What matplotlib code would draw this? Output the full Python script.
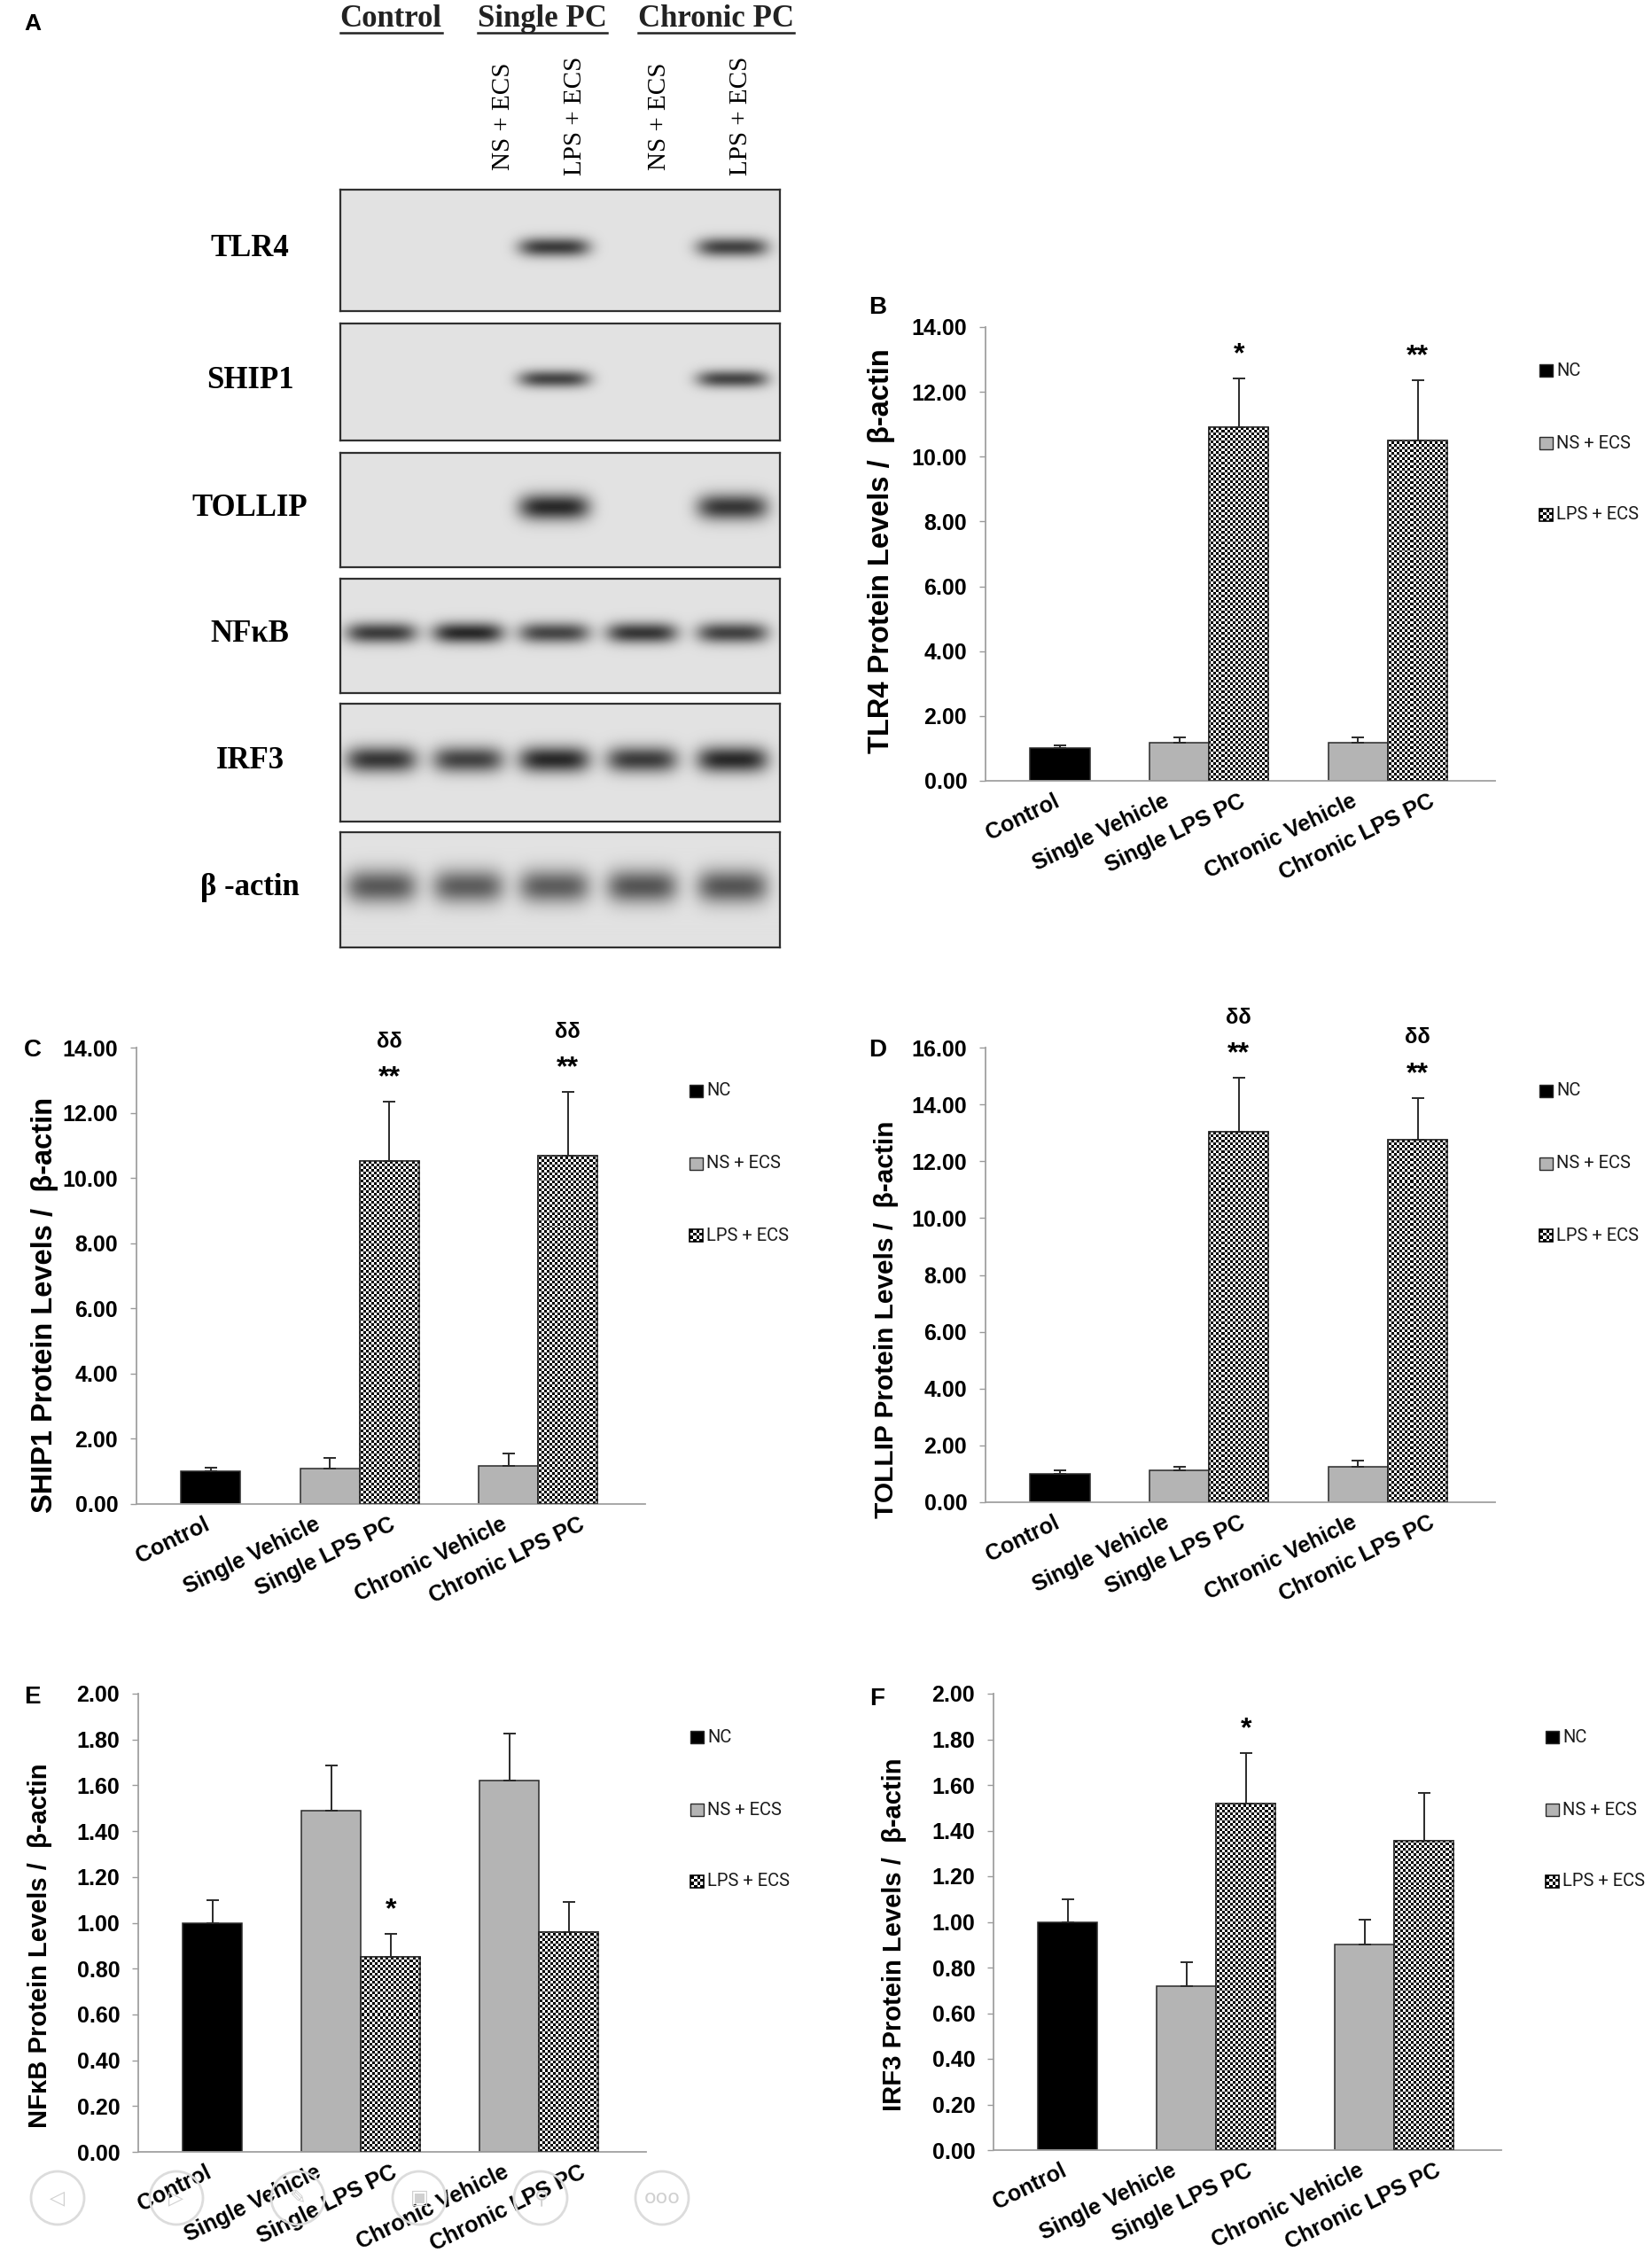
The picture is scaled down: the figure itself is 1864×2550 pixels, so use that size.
import numpy as np
import matplotlib
matplotlib.use("Agg")
import matplotlib.pyplot as plt
from matplotlib.patches import Rectangle, Circle

plt.rcParams['font.family'] = ['Liberation Sans', 'DejaVu Sans']

W, H = 1865, 2550

# ---------------- data ----------------
groups = ["Control", "Single Vehicle", "Single LPS PC", "Chronic Vehicle", "Chronic LPS PC"]
legend_names = ["NC", "NS + ECS", "LPS + ECS"]
group_series = [0, 1, 2, 1, 2]

tlr4_mean = [1.00, 1.18, 10.92, 1.18, 10.50]
tlr4_err = [0.10, 0.15, 1.50, 0.15, 1.85]
tlr4_stars = ["", "", "*", "", "**"]
tlr4_delta = ["", "", "", "", ""]

ship1_mean = [1.00, 1.08, 10.53, 1.18, 10.68]
ship1_err = [0.12, 0.33, 1.80, 0.38, 1.95]
ship1_stars = ["", "", "**", "", "**"]
ship1_delta = ["", "", "δδ", "", "δδ"]

tollip_mean = [1.00, 1.12, 13.05, 1.25, 12.77]
tollip_err = [0.12, 0.12, 1.88, 0.22, 1.46]
tollip_stars = ["", "", "**", "", "**"]
tollip_delta = ["", "", "δδ", "", "δδ"]

nfkb_mean = [1.00, 1.49, 0.85, 1.62, 0.96]
nfkb_err = [0.10, 0.195, 0.10, 0.205, 0.13]
nfkb_stars = ["", "", "*", "", ""]
nfkb_delta = ["", "", "", "", ""]

irf3_mean = [1.00, 0.72, 1.52, 0.90, 1.355]
irf3_err = [0.10, 0.105, 0.22, 0.11, 0.21]
irf3_stars = ["", "", "*", "", ""]
irf3_delta = ["", "", "", "", ""]

# western blot: band strength per lane (0 = no band)
blot_rows = ["TLR4", "SHIP1", "TOLLIP", "NFκB", "IRF3", "β -actin"]
band_tlr4 = [0.0, 0.0, 0.85, 0.0, 0.82]
band_ship1 = [0.0, 0.0, 0.80, 0.0, 0.80]
band_tollip = [0.0, 0.0, 0.95, 0.0, 0.88]
band_nfkb = [0.85, 0.95, 0.80, 0.88, 0.82]
band_irf3 = [0.88, 0.82, 0.95, 0.85, 0.95]
band_actin = [0.70, 0.68, 0.68, 0.72, 0.72]
header_groups = ["Control", "Single PC", "Chronic PC"]
lane_labels = ["NS + ECS", "LPS + ECS", "NS + ECS", "LPS + ECS"]

# ---------------- figure ----------------
fig = plt.figure(figsize=(W / 100, H / 100), dpi=100)
ov = fig.add_axes([0, 0, 1, 1], zorder=10)
ov.set_xlim(0, W)
ov.set_ylim(H, 0)
ov.axis('off')


def rect_px(x0, y0, x1, y1):
    return [x0 / W, 1 - y1 / H, (x1 - x0) / W, (y1 - y0) / H]


# ---------------- panel A : blots ----------------
serif = ['Liberation Serif', 'DejaVu Serif']
lane_x = [430, 528, 625, 724, 826]
blot_x0, blot_x1 = 384, 880
blot_y = [(214, 351), (365, 497), (511, 640), (653, 782), (794, 927), (939, 1069)]
band_sets = [band_tlr4, band_ship1, band_tollip, band_nfkb, band_irf3, band_actin]
band_thick = [11, 10, 15, 12, 15, 19]

for name, (y0, y1), levels, th in zip(blot_rows, blot_y, band_sets, band_thick):
    ax = fig.add_axes(rect_px(blot_x0, y0, blot_x1, y1))
    w, h = blot_x1 - blot_x0, y1 - y0
    xx = np.arange(w)[None, :]
    yy = np.arange(h)[:, None]
    dark = np.zeros((h, w))
    for lane, lvl in enumerate(levels):
        cx = lane_x[lane] - blot_x0
        dark += lvl * np.exp(-np.abs((xx - cx) / 40.0) ** 4) * np.exp(-((yy - 0.47 * h) / th) ** 2)
    img = 0.885 - 0.76 * np.clip(dark, 0, 1)
    ax.imshow(img, cmap='gray', vmin=0, vmax=1, aspect='auto', interpolation='bilinear')
    ax.set_xticks([])
    ax.set_yticks([])
    for s in ax.spines.values():
        s.set_color('#303030')
        s.set_linewidth(1.6)
    ov.text(282, (y0 + y1) / 2 - 2, name, family=serif, fontweight='bold', fontsize=25,
            ha='center', va='center')

header_x = [441, 612, 808]
header_txt = []
for hx, g in zip(header_x, header_groups):
    header_txt.append(ov.text(hx, 22, g, family=serif, fontweight='bold', fontsize=25,
                              ha='center', va='center', color='#222222'))
for lx, lab in zip([568, 649, 744, 836], lane_labels):
    ov.text(lx, 131, lab, family=serif, fontsize=21, rotation=90, ha='center', va='center')

ov.text(37, 27, "A", fontweight='bold', fontsize=19, ha='center', va='center')


# ---------------- bar panels ----------------
colors = ['#000000', '#b4b4b4', 'white']
edge = '#2a2a2a'
xpos = np.array([0, 2, 3, 5, 6])
label_shift = [-8, -18, 0, -8, 12]   # pixel nudges of the slanted category labels


def bar_panel(rect, ymax, ystep, means, errs, stars, deltas, ylabel, ysize, label_c, letter, letter_xy):
    x0, y0, x1, y1 = rect
    ax = fig.add_axes(rect_px(*rect))
    nx = int(round((x1 - x0) / 3.0))
    ny = int(round((y1 - y0) / 3.0))
    checker = (np.add.outer(np.arange(ny), np.arange(nx)) % 2).astype(float)
    for i in range(len(means)):
        s = group_series[i]
        b = ax.bar(xpos[i], means[i], width=1.0, color=colors[s], edgecolor=edge,
                   linewidth=1.1, zorder=2)[0]
        if s == 2:
            im = ax.imshow(checker, cmap='gray', vmin=0, vmax=1, extent=[0, 1, 0, 1],
                           transform=ax.transAxes, interpolation='nearest', aspect='auto', zorder=2.5)
            im.set_clip_path(b)
            ax.bar(xpos[i], means[i], width=1.0, fill=False, edgecolor=edge, linewidth=1.1, zorder=3)
    ax.errorbar(xpos, means, yerr=[np.zeros(len(errs)), errs], fmt='none', ecolor=edge,
                elinewidth=1.4, capsize=5, capthick=1.4, zorder=4)
    tops = np.array(means) + np.array(errs)
    for i in range(len(means)):
        if stars[i]:
            ax.annotate(stars[i], (xpos[i], tops[i]), xytext=(0, 27), textcoords='offset pixels',
                        ha='center', va='center', fontsize=23, fontweight='bold')
        if deltas[i]:
            ax.annotate(deltas[i], (xpos[i], tops[i]), xytext=(0, 68), textcoords='offset pixels',
                        ha='center', va='center', fontsize=17, fontweight='bold')
    ax.set_xlim(-1.25, 7.3)
    ax.set_ylim(0, ymax)
    yt = np.arange(0, ymax + ystep / 2, ystep)
    ax.set_yticks(yt)
    ax.set_yticklabels(["%.2f" % v for v in yt], fontweight='bold', fontsize=18)
    ax.set_xticks([])
    for i, g in enumerate(groups):
        ax.annotate(g, (xpos[i], 0), xycoords=('data', 'axes fraction'),
                    xytext=(label_shift[i], -11), textcoords='offset pixels',
                    rotation=26, ha='right', va='top', rotation_mode='anchor',
                    fontweight='bold', fontsize=18, annotation_clip=False)
    ax.tick_params(axis='y', direction='out', length=5, width=1, color='#9a9a9a', pad=10)
    for side in ['top', 'right']:
        ax.spines[side].set_visible(False)
    for side in ['left', 'bottom']:
        ax.spines[side].set_color('#a0a0a0')
        ax.spines[side].set_linewidth(1.3)
    ax.set_facecolor('none')
    ov.text(label_c[0], label_c[1], ylabel, rotation=90, ha='center', va='center',
            fontweight='bold', fontsize=ysize)
    ov.text(letter_xy[0], letter_xy[1], letter, fontweight='bold', fontsize=20,
            ha='center', va='center')
    # legend
    lx = x1 + 50
    for k, (name, dy) in enumerate(zip(legend_names, [49, 131, 212])):
        ly = y0 + dy
        if k == 2:
            ov.add_patch(Rectangle((lx, ly - 7), 15, 14, facecolor='white', edgecolor='black', lw=1.2))
            cs = 15 / 4.0
            for a in range(4):
                for c in range(4):
                    if (a + c) % 2 == 0:
                        ov.add_patch(Rectangle((lx + a * cs, ly - 7 + c * 3.5), cs, 3.5,
                                               facecolor='black', edgecolor='none'))
        else:
            ov.add_patch(Rectangle((lx, ly - 7), 15, 14, facecolor=colors[k], edgecolor=edge, lw=1.0))
        ov.text(lx + 19, ly, name, family=['Roboto', 'DejaVu Sans'], fontsize=14.5,
                ha='left', va='center', color='#1a1a1a')
    return ax


bar_panel((1112, 369, 1687, 881), 14, 2, tlr4_mean, tlr4_err, tlr4_stars, tlr4_delta,
          "TLR4 Protein Levels /  β-actin", 23.5, (995, 622), "B", (990, 347))
bar_panel((154, 1182, 728, 1697), 14, 2, ship1_mean, ship1_err, ship1_stars, ship1_delta,
          "SHIP1 Protein Levels /  β-actin", 23.5, (51, 1472), "C", (37, 1185))
bar_panel((1112, 1182, 1687, 1695), 16, 2, tollip_mean, tollip_err, tollip_stars, tollip_delta,
          "TOLLIP Protein Levels /  β-actin", 21.5, (1000, 1489), "D", (990, 1185))
bar_panel((156, 1911, 729, 2428), 2, 0.2, nfkb_mean, nfkb_err, nfkb_stars, nfkb_delta,
          "NFκB Protein Levels /  β-actin", 21, (45, 2195), "E", (36, 1915))
bar_panel((1121, 1911, 1694, 2426), 2, 0.2, irf3_mean, irf3_err, irf3_stars, irf3_delta,
          "IRF3 Protein Levels /  β-actin", 21, (1009, 2183), "F", (990, 1917))

# faint viewer buttons along the bottom
for bx, icon in zip([65, 199, 336, 473, 610, 747], ['◁', '▷', '✎', '▣', '⚲', 'ooo']):
    ov.add_patch(Circle((bx, 2480), 30, facecolor='none', edgecolor='#dcdcdc', lw=2, zorder=1))
    ov.text(bx, 2480, icon, family=['DejaVu Sans'], fontsize=16, color='#d0d0d0',
            ha='center', va='center', zorder=1)

# underline group headers of the blot
fig.canvas.draw()
r = fig.canvas.get_renderer()
inv = ov.transData.inverted()
for t in header_txt:
    bb = t.get_window_extent(r)
    (xa, ya), (xb, yb) = inv.transform([(bb.x0, bb.y0), (bb.x1, bb.y1)])
    ov.plot([xa, xb], [max(ya, yb) - 2, max(ya, yb) - 2], color='#222222', lw=1.8)

fig.savefig("out.png", dpi=100)
